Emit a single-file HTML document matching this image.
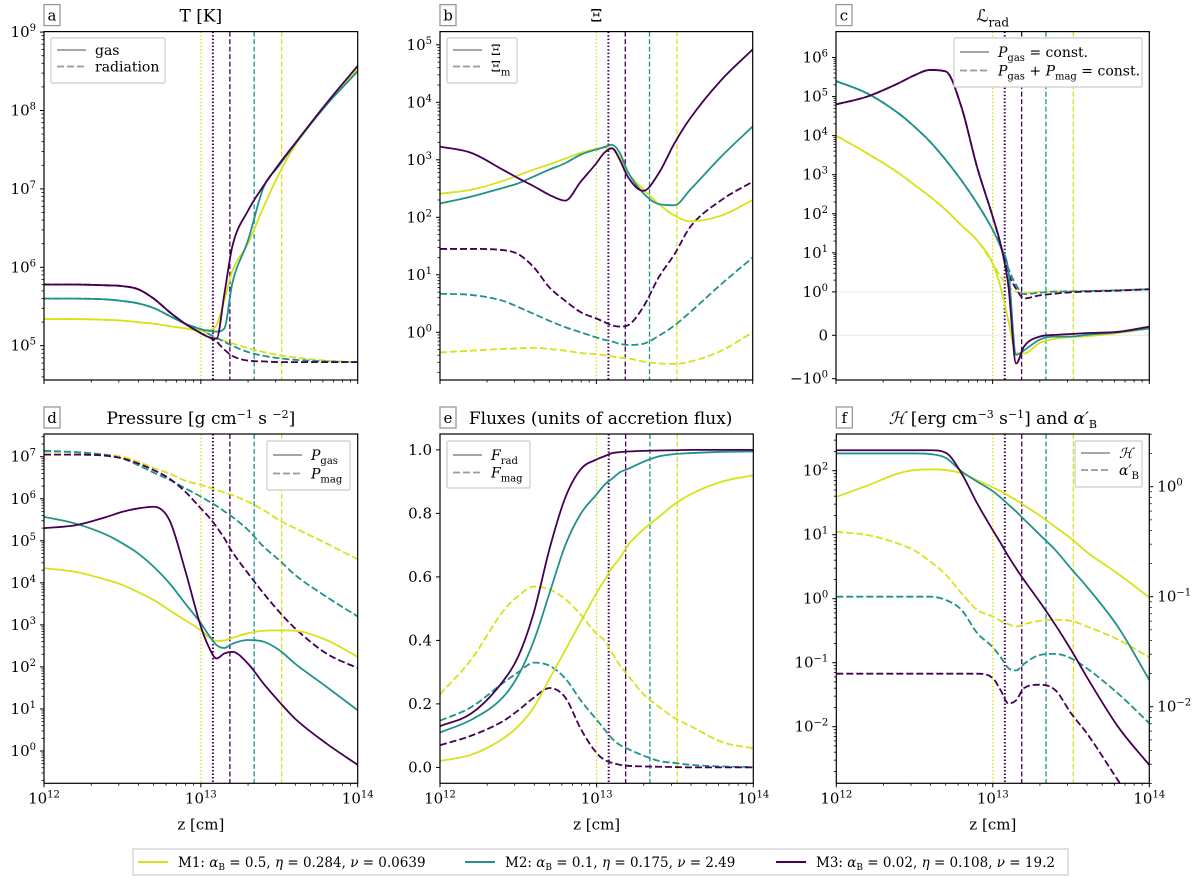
<!DOCTYPE html>
<html><head><meta charset="utf-8"><style>
html,body{margin:0;padding:0;background:#fff;}
svg{display:block;font-family:"DejaVu Serif","Liberation Serif",serif;}
svg text{font-family:"DejaVu Serif","Liberation Serif",serif;}
</style></head><body>
<svg id="fig" width="1200" height="882" viewBox="0 0 1200 882" xmlns="http://www.w3.org/2000/svg"></svg>
<script>
// shared z knots (log10 z [cm])
const Z = [12,12.2,12.4,12.5,12.6,12.7,12.8,12.9,13,13.05,13.1,13.15,13.2,13.3,13.4,13.5,13.6,13.8,14];
// vertical marker positions (log10 z) and kinds
const markerZ = [13.0, 13.077, 13.185, 13.34, 13.515];
const markerModel = [0, 2, 2, 1, 0];
const markerStyle = ['dot','dot','dash','dash','dash'];
// Panel a: log10 T
const aGasM1 = [5.34,5.34,5.33,5.32,5.3,5.28,5.25,5.22,5.19,5.2,5.26,5.58,5.95,6.3,6.77,7.2,7.55,8.07,8.53];
const aGasM2 = [5.6,5.6,5.59,5.57,5.54,5.48,5.38,5.28,5.21,5.19,5.18,5.22,5.79,6.34,7.02,7.3,7.57,8.07,8.5];
const aGasM3 = [5.78,5.78,5.77,5.76,5.72,5.6,5.43,5.28,5.16,5.11,5.09,5.66,6.26,6.72,7.04,7.32,7.58,8.09,8.57];
const aRadM1 = [5.34,5.34,5.33,5.32,5.3,5.28,5.25,5.22,5.19,5.15,5.09,5.06,5.03,4.97,4.92,4.88,4.85,4.81,4.79];
const aRadM2 = [5.6,5.6,5.59,5.57,5.54,5.48,5.38,5.28,5.21,5.15,5.1,5.05,5.0,4.92,4.87,4.84,4.82,4.8,4.79];
const aRadM3 = [5.78,5.78,5.77,5.76,5.72,5.6,5.43,5.28,5.16,5.11,5.05,4.95,4.87,4.81,4.8,4.79,4.79,4.79,4.79];
// Panel b: log10 Xi
const bXiM1 = [2.41,2.48,2.63,2.73,2.83,2.92,3.02,3.12,3.19,3.21,3.2,3.04,2.78,2.49,2.23,2.03,1.93,2.03,2.3];
const bXiM2 = [2.24,2.36,2.51,2.59,2.71,2.83,2.94,3.09,3.18,3.22,3.26,3.12,2.8,2.42,2.23,2.21,2.48,3.06,3.58];
const bXiM3 = [3.23,3.12,2.83,2.68,2.54,2.39,2.29,2.62,2.94,3.12,3.2,3.0,2.71,2.46,2.77,3.29,3.72,4.39,4.92];
const bXimM1 = [-0.35,-0.32,-0.29,-0.28,-0.27,-0.29,-0.32,-0.36,-0.38,-0.4,-0.42,-0.44,-0.45,-0.51,-0.54,-0.55,-0.51,-0.32,0.0];
const bXimM2 = [0.67,0.65,0.55,0.44,0.32,0.2,0.09,0.0,-0.09,-0.13,-0.16,-0.2,-0.22,-0.2,-0.06,0.12,0.35,0.84,1.3];
const bXimM3 = [1.45,1.45,1.43,1.36,1.13,0.78,0.55,0.35,0.24,0.18,0.12,0.1,0.12,0.44,0.96,1.36,1.83,2.3,2.62];
// Panel c: L_rad (symlog)
const cConstM1 = [1e4,3.5e3,1.1e3,550,275,126,51,21,5.4,1.35,0.35,-0.41,-0.42,-0.18,-0.08,-0.04,-0.02,0.05,0.16];
const cConstM2 = [2.5e5,1.2e5,3.7e4,1.7e4,7e3,2.4e3,720,186,39,14.5,3.6,-0.45,-0.35,-0.1,-0.03,-0.03,0.01,0.07,0.16];
const cConstM3 = [6.3e4,1e5,2.2e5,3.5e5,4.8e5,4.4e5,5.5e4,1.6e3,85,17,1.5,-0.65,-0.26,-0.03,0.01,0.03,0.05,0.08,0.2];
const cTotM1 = [1e4,3.5e3,1.1e3,550,275,126,51,21,5.4,2.5,1.4,1.0,0.98,1.0,1.02,1.03,1.05,1.1,1.17];
const cTotM2 = [2.5e5,1.2e5,3.7e4,1.7e4,7e3,2.4e3,720,186,39,14.5,4,1.5,0.95,0.98,1.02,1.03,1.05,1.1,1.17];
const cTotM3 = [6.3e4,1e5,2.2e5,3.5e5,4.8e5,4.4e5,5.5e4,1.6e3,85,17,3,1.2,0.85,0.92,0.96,0.99,1.02,1.08,1.17];
// Panel d: log10 pressure
const dGasM1 = [4.35,4.26,4.07,3.95,3.78,3.59,3.35,3.11,2.87,2.71,2.62,2.63,2.69,2.8,2.86,2.87,2.86,2.64,2.24];
const dGasM2 = [5.57,5.41,5.14,4.94,4.7,4.38,3.99,3.51,3.04,2.76,2.52,2.45,2.55,2.64,2.6,2.4,2.08,1.53,0.97];
const dGasM3 = [5.3,5.37,5.57,5.69,5.77,5.81,5.49,4.3,2.96,2.48,2.2,2.32,2.36,2.08,1.6,1.17,0.77,0.18,-0.33];
const dMagM1 = [7.12,7.1,7.05,7.0,6.88,6.73,6.6,6.43,6.33,6.27,6.21,6.15,6.09,5.93,5.73,5.49,5.3,4.94,4.56];
const dMagM2 = [7.14,7.11,7.04,6.96,6.8,6.62,6.45,6.25,6.05,5.94,5.83,5.7,5.57,5.26,4.86,4.54,4.19,3.67,3.2];
const dMagM3 = [7.05,7.05,7.02,6.96,6.84,6.68,6.48,6.17,5.77,5.57,5.33,5.06,4.74,4.23,3.75,3.31,2.92,2.32,1.97];
// Panel e: fluxes
const eRadM1 = [0.02,0.04,0.09,0.13,0.19,0.28,0.37,0.46,0.55,0.59,0.63,0.66,0.7,0.75,0.79,0.83,0.86,0.9,0.92];
const eRadM2 = [0.11,0.15,0.22,0.29,0.4,0.55,0.7,0.8,0.86,0.89,0.91,0.93,0.94,0.963,0.98,0.987,0.99,0.994,0.995];
const eRadM3 = [0.13,0.17,0.27,0.35,0.49,0.69,0.85,0.94,0.97,0.98,0.99,0.993,0.995,0.997,0.998,0.999,1.0,1.0,1.0];
const eMagM1 = [0.23,0.34,0.49,0.54,0.57,0.56,0.53,0.48,0.42,0.4,0.36,0.32,0.29,0.23,0.19,0.155,0.13,0.08,0.06];
const eMagM2 = [0.147,0.19,0.265,0.3,0.33,0.32,0.28,0.21,0.15,0.12,0.09,0.07,0.058,0.037,0.02,0.014,0.008,0.003,0.001];
const eMagM3 = [0.07,0.1,0.145,0.18,0.22,0.25,0.22,0.12,0.045,0.024,0.014,0.008,0.005,0.003,0.002,0.001,0.0,0.0,0.0];
// Panel f: log10 H (left) and log10 alpha'_B (right)
const fHM1 = [1.59,1.77,1.96,2.01,2.02,2.01,1.96,1.85,1.74,1.68,1.61,1.54,1.46,1.3,1.12,0.94,0.73,0.39,0.02];
const fHM2 = [2.27,2.27,2.27,2.27,2.26,2.2,1.99,1.83,1.68,1.58,1.47,1.36,1.24,1.0,0.76,0.47,0.19,-0.44,-1.27];
const fHM3 = [2.32,2.32,2.32,2.32,2.32,2.28,1.96,1.49,1.07,0.87,0.66,0.47,0.29,-0.05,-0.41,-0.8,-1.22,-2.0,-2.6];
const fAlphaM1 = [-0.41,-0.44,-0.52,-0.58,-0.68,-0.8,-0.97,-1.12,-1.18,-1.22,-1.25,-1.27,-1.25,-1.22,-1.21,-1.22,-1.27,-1.39,-1.55];
const fAlphaM2 = [-1.0,-1.0,-1.0,-1.0,-1.0,-1.03,-1.12,-1.33,-1.46,-1.55,-1.65,-1.67,-1.61,-1.53,-1.52,-1.56,-1.65,-1.88,-2.15];
const fAlphaM3 = [-1.7,-1.7,-1.7,-1.7,-1.7,-1.7,-1.7,-1.7,-1.74,-1.85,-1.97,-1.94,-1.83,-1.8,-1.85,-2.06,-2.24,-2.67,-3.1];

const COLORS = ['#d8e219','#21918c','#440154'];
const FONT = '"DejaVu Serif","Liberation Serif",serif';
const NS = 'http://www.w3.org/2000/svg';
const svg = document.getElementById('fig');
function mk(tag, attrs, parent){
  const e = document.createElementNS(NS, tag);
  for (const k in attrs) e.setAttribute(k, attrs[k]);
  (parent||svg).appendChild(e); return e;
}
function txt(x,y,s,size,anchor,parent,name){
  const t = mk('text',{x:x,y:y,'font-size':size,'text-anchor':anchor||'middle',fill:'#000','font-family':FONT},parent);
  
  
  t.innerHTML = s; return t;
}
const P = {
  a:{x0:44,x1:357.7,y0:31.6,y1:380},
  b:{x0:440,x1:752.7,y0:31.6,y1:380},
  c:{x0:836,x1:1149.3,y0:31.6,y1:380},
  d:{x0:44,x1:357.7,y0:434,y1:783.3},
  e:{x0:440,x1:753.3,y0:434,y1:783.3},
  f:{x0:836.3,x1:1149.3,y0:434,y1:783.3}
};
function xScale(p, lz){ return p.x0 + (lz-12)/2*(p.x1-p.x0); }
const ys = {
  a: v => 345.7 - (v-5)*78.4,
  b: v => 332.3 - v*57.5,
  c: v => { const a=Math.abs(v); const s=Math.sign(v)*(a<=1? a*1.111 : 1.111+Math.log10(a)); return 335.3 - s*39.07; },
  d: v => 751 - v*42.04,
  e: v => 767.4 - v*317.5,
  f: v => 470.7 - (v-2)*64,
  fr: v => 486.7 - v*110
};
// monotone cubic (Fritsch-Carlson) in pixel space
function monoPath(pts){
  const n=pts.length, xs=pts.map(p=>p[0]), yv=pts.map(p=>p[1]);
  const dl=[], m=new Array(n);
  for(let i=0;i<n-1;i++) dl.push((yv[i+1]-yv[i])/(xs[i+1]-xs[i]));
  m[0]=dl[0]; m[n-1]=dl[n-2];
  for(let i=1;i<n-1;i++){ m[i]=(dl[i-1]*dl[i]<=0)?0:(dl[i-1]+dl[i])/2; }
  for(let i=0;i<n-1;i++){
    if(dl[i]===0){ m[i]=0; m[i+1]=0; continue; }
    const a=m[i]/dl[i], b=m[i+1]/dl[i], s=a*a+b*b;
    if(s>9){ const t=3/Math.sqrt(s); m[i]=t*a*dl[i]; m[i+1]=t*b*dl[i]; }
  }
  let d='M'+xs[0].toFixed(2)+','+yv[0].toFixed(2);
  for(let i=0;i<n-1;i++){
    const h=(xs[i+1]-xs[i])/3;
    d+=' C'+(xs[i]+h).toFixed(2)+','+(yv[i]+m[i]*h).toFixed(2)+' '+(xs[i+1]-h).toFixed(2)+','+(yv[i+1]-m[i+1]*h).toFixed(2)+' '+xs[i+1].toFixed(2)+','+yv[i+1].toFixed(2);
  }
  return d;
}
function series(key, g, vals, ysc, color, dashed, name){
  const p = P[key];
  const pts = Z.map((z,i)=>[xScale(p,z), ysc(vals[i])]);
  const path = mk('path',{d:monoPath(pts),fill:'none',stroke:color,'stroke-width':1.8,'stroke-dasharray':dashed?'7,3':'none','clip-path':'url(#clip-'+key+')'},g);
  
  
}
function sup(base, exp){ return base+'<tspan dy="-6" font-size="10">'+exp+'</tspan>'; }
function markers(key,g){
  const p = P[key];
  markerZ.forEach((z,i)=>{
    const x = xScale(p,z);
    const l = mk('line',{x1:x,x2:x,y1:p.y0,y2:p.y1,stroke:COLORS[markerModel[i]],'stroke-width':markerStyle[i]==='dot'&&markerModel[i]===2?2:1.3,'stroke-dasharray':markerStyle[i]==='dot'?'1.5,2':'5,2.5'},g);
    
    
  });
}
function frame(key, letter, title, bottomLabels){
  const p = P[key];
  const g = mk('g',{});
  
  
  const cp = mk('clipPath',{id:'clip-'+key},g);
  mk('rect',{x:p.x0,y:p.y0,width:p.x1-p.x0,height:p.y1-p.y0},cp);
  for (let dec=12; dec<=14; dec++){
    const x = xScale(p,dec);
    mk('line',{x1:x,x2:x,y1:p.y1,y2:p.y1+4,stroke:'#000','stroke-width':1},g);
    if (bottomLabels) txt(x, p.y1+20, sup('10','1'+(dec-10)), 15, 'middle', g, 'x-tick-label');
    if (dec<14) for (let k=2;k<10;k++){
      const xm = xScale(p, dec+Math.log10(k));
      mk('line',{x1:xm,x2:xm,y1:p.y1,y2:p.y1+2.5,stroke:'#000','stroke-width':0.8},g);
    }
  }
  if (bottomLabels) txt((p.x0+p.x1)/2, p.y1+46, 'z [cm]', 15, 'middle', g, 'x-axis-title');
  const lb = mk('rect',{x:p.x0,y:p.y0-27,width:16,height:21,fill:'#fff',stroke:'#999','stroke-width':1.3},g);
  
  
  txt(p.x0+8, p.y0-11, letter, 15, 'middle', g, 'panel-letter');
  txt((p.x0+p.x1)/2, p.y0-10, title, 17, 'middle', g, 'panel-title');
  return g;
}
function logYTicks(g, p, ysc, lo, hi, labelMin, labelMax, side){
  const right = side==='right';
  const xa = right? p.x1 : p.x0, dir = right? 1 : -1;
  for (let dec=Math.floor(lo); dec<=Math.ceil(hi); dec++){
    for (let k=1;k<10;k++){
      const v = dec+Math.log10(k);
      if (v<lo || v>hi) continue;
      const y = ysc(v);
      mk('line',{x1:xa,x2:xa+dir*(k===1?4:2.5),y1:y,y2:y,stroke:'#000','stroke-width':k===1?1:0.8},g);
      if (k===1 && dec>=labelMin && dec<=labelMax){
        const e = dec<0 ? '\u2212'+(-dec) : ''+dec;
        txt(xa+dir*8, y+5, sup('10',e), 15, right?'start':'end', g, 'y-tick-label');
      }
    }
  }
}
function border(g,p){
  const r = mk('rect',{x:p.x0,y:p.y0,width:p.x1-p.x0,height:p.y1-p.y0,fill:'none',stroke:'#000','stroke-width':1.2},g);
  
  
}
function legend(g, x, y, w, h, items){
  const r = mk('rect',{x:x,y:y,width:w,height:h,fill:'#fff',stroke:'#ccc','stroke-width':1.2,rx:1.5},g);
  
  
  items.forEach((it,i)=>{
    const yy = y+12+i*(h-12)/items.length+ (h>46?2:0);
    const l = mk('line',{x1:x+6,x2:x+35,y1:yy,y2:yy,stroke:'#999','stroke-width':1.8,'stroke-dasharray':i?'7,3':'none'},g);
    
    
    txt(x+44, yy+5, it, 14, 'start', g, 'legend-entry');
  });
}
(function(){
  const p=P.a, g=frame('a','a','T [K]',false);
  markers('a',g);
  [aRadM1,aRadM2,aRadM3].forEach((s,i)=>series('a',g,s,ys.a,COLORS[i],true,'radiation-m'+(i+1)));
  [aGasM1,aGasM2,aGasM3].forEach((s,i)=>series('a',g,s,ys.a,COLORS[i],false,'gas-m'+(i+1)));
  logYTicks(g,p,ys.a,4.56,9,5,9);
  border(g,p);
  legend(g,51,38,114,45,['gas','radiation']);
})();
(function(){
  const p=P.b, g=frame('b','b','\u039E',false);
  markers('b',g);
  [bXimM1,bXimM2,bXimM3].forEach((s,i)=>series('b',g,s,ys.b,COLORS[i],true,'xi-m-m'+(i+1)));
  [bXiM1,bXiM2,bXiM3].forEach((s,i)=>series('b',g,s,ys.b,COLORS[i],false,'xi-m'+(i+1)));
  logYTicks(g,p,ys.b,-0.83,5.23,0,5);
  border(g,p);
  legend(g,447,38,70,45,['\u039E','\u039E<tspan dy="4" font-size="10">m</tspan>']);
})();
(function(){
  const p=P.c, g=frame('c','c','\u2112<tspan dy="5" font-size="12">rad</tspan>',false);
  [0,1].forEach(v=>{ const y=ys.c(v); const l=mk('line',{x1:p.x0,x2:p.x1,y1:y,y2:y,stroke:'#e8e8e8','stroke-width':1},g);  });
  markers('c',g);
  [cTotM1,cTotM2,cTotM3].forEach((s,i)=>series('c',g,s,ys.c,COLORS[i],true,'lrad-total-m'+(i+1)));
  [cConstM1,cConstM2,cConstM3].forEach((s,i)=>series('c',g,s,ys.c,COLORS[i],false,'lrad-pgas-m'+(i+1)));
  for (let d=0; d<=6; d++){
    const y=ys.c(Math.pow(10,d));
    mk('line',{x1:p.x0,x2:p.x0-4,y1:y,y2:y,stroke:'#000'},g);
    txt(p.x0-8,y+5,sup('10',''+d),15,'end',g,'y-tick-label');
    for (let k=2;k<10 && d<6;k++){ const ym=ys.c(k*Math.pow(10,d)); mk('line',{x1:p.x0,x2:p.x0-2.5,y1:ym,y2:ym,stroke:'#000','stroke-width':0.8},g); }
  }
  let y0=ys.c(0); mk('line',{x1:p.x0,x2:p.x0-4,y1:y0,y2:y0,stroke:'#000'},g); txt(p.x0-8,y0+5,'0',15,'end',g,'y-tick-label');
  let ym1=ys.c(-1); mk('line',{x1:p.x0,x2:p.x0-4,y1:ym1,y2:ym1,stroke:'#000'},g); txt(p.x0-8,ym1+5,'\u2212'+sup('10','0'),15,'end',g,'y-tick-label');
  border(g,p);
  legend(g,954,38,188,49,['<tspan font-style="italic">P</tspan><tspan dy="4" font-size="10">gas</tspan><tspan dy="-4"> = const.</tspan>','<tspan font-style="italic">P</tspan><tspan dy="4" font-size="10">gas</tspan><tspan dy="-4"> + </tspan><tspan font-style="italic">P</tspan><tspan dy="4" font-size="10">mag</tspan><tspan dy="-4"> = const.</tspan>']);
})();
(function(){
  const p=P.d, g=frame('d','d','Pressure [g cm<tspan dy="-6" font-size="11">\u22121</tspan><tspan dy="6"> s </tspan><tspan dy="-6" font-size="11">\u22122</tspan><tspan dy="6">]</tspan>',true);
  markers('d',g);
  [dMagM1,dMagM2,dMagM3].forEach((s,i)=>series('d',g,s,ys.d,COLORS[i],true,'pmag-m'+(i+1)));
  [dGasM1,dGasM2,dGasM3].forEach((s,i)=>series('d',g,s,ys.d,COLORS[i],false,'pgas-m'+(i+1)));
  logYTicks(g,p,ys.d,-0.77,7.54,0,7);
  border(g,p);
  legend(g,267,441,83,49,['<tspan font-style="italic">P</tspan><tspan dy="4" font-size="10">gas</tspan>','<tspan font-style="italic">P</tspan><tspan dy="4" font-size="10">mag</tspan>']);
})();
(function(){
  const p=P.e, g=frame('e','e','Fluxes (units of accretion flux)',true);
  g.lastChild.setAttribute('x', (p.x0+p.x1)/2+4);
  markers('e',g);
  [eMagM1,eMagM2,eMagM3].forEach((s,i)=>series('e',g,s,ys.e,COLORS[i],true,'fmag-m'+(i+1)));
  [eRadM1,eRadM2,eRadM3].forEach((s,i)=>series('e',g,s,ys.e,COLORS[i],false,'frad-m'+(i+1)));
  ['0.0','0.2','0.4','0.6','0.8','1.0'].forEach(s=>{ const y=ys.e(parseFloat(s)); mk('line',{x1:p.x0,x2:p.x0-4,y1:y,y2:y,stroke:'#000'},g); txt(p.x0-8,y+5,s,15,'end',g,'y-tick-label'); });
  border(g,p);
  legend(g,447,441,83,47,['<tspan font-style="italic">F</tspan><tspan dy="4" font-size="10">rad</tspan>','<tspan font-style="italic">F</tspan><tspan dy="4" font-size="10">mag</tspan>']);
})();
(function(){
  const p=P.f, g=frame('f','f','<tspan font-style="italic">\u210B</tspan> [erg cm<tspan dy="-6" font-size="11">\u22123</tspan><tspan dy="6"> s</tspan><tspan dy="-6" font-size="11">\u22121</tspan><tspan dy="6">] and </tspan><tspan font-style="italic">\u03B1\u2032</tspan><tspan dy="4" font-size="11">B</tspan>',true);
  markers('f',g);
  [fAlphaM1,fAlphaM2,fAlphaM3].forEach((s,i)=>series('f',g,s,ys.fr,COLORS[i],true,'alpha-m'+(i+1)));
  [fHM1,fHM2,fHM3].forEach((s,i)=>series('f',g,s,ys.f,COLORS[i],false,'heating-m'+(i+1)));
  logYTicks(g,p,ys.f,-2.88,2.57,-2,2);
  logYTicks(g,p,ys.fr,-2.7,0.48,-2,0,'right');
  border(g,p);
  legend(g,1075,441,67,46,['<tspan font-style="italic">\u210B</tspan>','<tspan font-style="italic">\u03B1\u2032</tspan><tspan dy="4" font-size="10">B</tspan>']);
})();
(function(){
  const g = mk('g',{});
  
  
  const r = mk('rect',{x:133,y:849,width:935,height:26,fill:'#fff',stroke:'#ccc','stroke-width':1.2},g);
  
  
  const labels = ['M1: <tspan font-style="italic">\u03B1</tspan><tspan dy="3" font-size="9">B</tspan><tspan dy="-3"> =  0.5, </tspan><tspan font-style="italic">\u03B7</tspan> =  0.284, <tspan font-style="italic">\u03BD</tspan> =  0.0639',
                  'M2: <tspan font-style="italic">\u03B1</tspan><tspan dy="3" font-size="9">B</tspan><tspan dy="-3"> =  0.1, </tspan><tspan font-style="italic">\u03B7</tspan> =  0.175, <tspan font-style="italic">\u03BD</tspan> =  2.49',
                  'M3: <tspan font-style="italic">\u03B1</tspan><tspan dy="3" font-size="9">B</tspan><tspan dy="-3"> =  0.02, </tspan><tspan font-style="italic">\u03B7</tspan> =  0.108, <tspan font-style="italic">\u03BD</tspan> =  19.2'];
  const lx = [138, 465, 776];
  labels.forEach((s,i)=>{
    const l = mk('line',{x1:lx[i],x2:lx[i]+30,y1:862,y2:862,stroke:COLORS[i],'stroke-width':2},g);
    
    
    txt(lx[i]+40, 867, s, 13.5, 'start', g, 'model-legend-entry-m'+(i+1));
  });
})();
</script>
</body></html>
